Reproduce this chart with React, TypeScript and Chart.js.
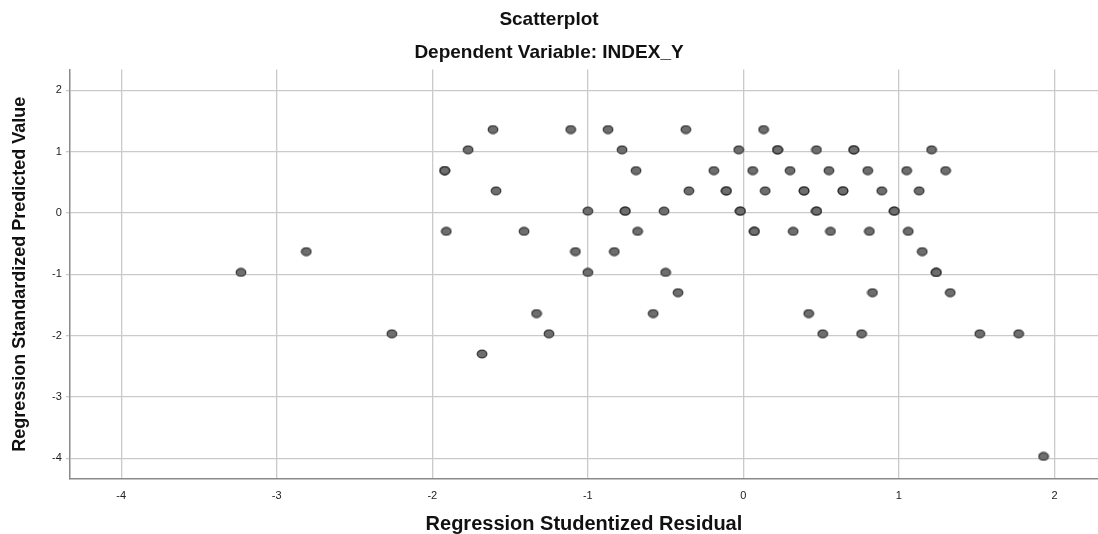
import React, { useEffect, useRef } from "react";
import { Chart, registerables } from "chart.js";

Chart.register(...registerables);

// Regression Studentized Residual (x) and Regression Standardized Predicted Value (y)
const residuals: number[] = [
  -1.61, -1.11, -0.87, -0.37, 0.13,
  -1.77, -0.78, -0.03, 0.22, 0.22, 0.47, 0.71, 0.71, 1.21,
  -1.92, -1.92, -0.69, -0.19, 0.06, 0.30, 0.55, 0.80, 1.05, 1.30,
  -1.59, -0.35, -0.11, -0.11, 0.14, 0.39, 0.39, 0.64, 0.64, 0.89, 1.13,
  -1.00, -0.76, -0.76, -0.51, -0.02, -0.02, 0.47, 0.47, 0.97, 0.97,
  -1.91, -1.41, -0.68, 0.07, 0.07, 0.32, 0.56, 0.81, 1.06,
  -2.81, -1.08, -0.83, 1.15,
  -3.23, -1.00, -0.50, 1.24, 1.24,
  -0.42, 0.83, 1.33,
  -1.33, -0.58, 0.42,
  -2.26, -1.25, 0.51, 0.76, 1.52, 1.77,
  -1.68,
  1.93,
];
const predicted: number[] = [
  1.36, 1.36, 1.36, 1.36, 1.36,
  1.03, 1.03, 1.03, 1.03, 1.03, 1.03, 1.03, 1.03, 1.03,
  0.69, 0.69, 0.69, 0.69, 0.69, 0.69, 0.69, 0.69, 0.69, 0.69,
  0.36, 0.36, 0.36, 0.36, 0.36, 0.36, 0.36, 0.36, 0.36, 0.36, 0.36,
  0.03, 0.03, 0.03, 0.03, 0.03, 0.03, 0.03, 0.03, 0.03, 0.03,
  -0.30, -0.30, -0.30, -0.30, -0.30, -0.30, -0.30, -0.30, -0.30,
  -0.63, -0.63, -0.63, -0.63,
  -0.97, -0.97, -0.97, -0.97, -0.97,
  -1.30, -1.30, -1.30,
  -1.64, -1.64, -1.64,
  -1.97, -1.97, -1.97, -1.97, -1.97, -1.97,
  -2.30,
  -3.97,
];

const xTicks: number[] = [-4, -3, -2, -1, 0, 1, 2];
const yTicks: number[] = [-4, -3, -2, -1, 0, 1, 2];

const titleText = "Scatterplot";
const subtitleText = "Dependent Variable: INDEX_Y";
const xTitle = "Regression Studentized Residual";
const yTitle = "Regression Standardized Predicted Value";

const FONT = "'Liberation Sans', Arial, Helvetica, sans-serif";

function makeMarker(): HTMLCanvasElement {
  const c = document.createElement("canvas");
  c.width = 12;
  c.height = 10;
  const ctx = c.getContext("2d")!;
  ctx.beginPath();
  ctx.ellipse(6, 5, 4.8, 3.9, 0, 0, Math.PI * 2);
  ctx.fillStyle = "#6e6e6e";
  ctx.fill();
  ctx.lineWidth = 1.3;
  ctx.strokeStyle = "rgba(30,30,30,0.8)";
  ctx.stroke();
  return c;
}

export default function App() {
  const ref = useRef<HTMLCanvasElement | null>(null);

  useEffect(() => {
    if (!ref.current) return;
    const marker = makeMarker();
    const points = residuals.map((x, i) => ({ x, y: predicted[i] }));
    const chart = new Chart(ref.current, {
      type: "scatter",
      data: {
        datasets: [
          {
            data: points,
            pointStyle: marker as any,
            pointRadius: 5,
            pointHoverRadius: 5,
          },
        ],
      },
      options: {
        animation: false,
        responsive: false,
        devicePixelRatio: 1,
        layout: { autoPadding: false, padding: { left: 0, right: 0, top: 0, bottom: 0 } },
        plugins: {
          legend: { display: false },
          tooltip: { enabled: false },
          title: {
            display: true,
            text: titleText,
            color: "#111",
            font: { family: FONT, size: 19, weight: "bold", lineHeight: 1.2 },
            padding: { top: 8, bottom: 0 },
          },
          subtitle: {
            display: true,
            text: subtitleText,
            color: "#111",
            font: { family: FONT, size: 19, weight: "bold", lineHeight: 1.2 },
            padding: { top: 11, bottom: 5 },
          },
        },
        scales: {
          x: {
            type: "linear",
            min: -4.33,
            max: 2.28,
            afterBuildTicks: (axis: any) => {
              axis.ticks = xTicks.map((v) => ({ value: v }));
            },
            afterFit: (axis: any) => {
              axis.paddingRight = 0;
              axis.paddingLeft = 0;
            },
            ticks: {
              color: "#222",
              font: { family: FONT, size: 11, lineHeight: 1.2 },
              padding: 11,
              callback: (v: any) => String(v),
            },
            grid: {
              color: "#cacaca",
              lineWidth: 1.3,
              drawTicks: false,
            },
            border: { color: "#8a8a8a", width: 1.5 },
            title: {
              display: true,
              text: xTitle,
              color: "#111",
              font: { family: FONT, size: 20, weight: "bold", lineHeight: 1.0 },
              padding: { top: 0, bottom: 0 },
            },
          },
          y: {
            type: "linear",
            min: -4.335,
            max: 2.337,
            afterBuildTicks: (axis: any) => {
              axis.ticks = yTicks.map((v) => ({ value: v }));
            },
            ticks: {
              color: "#222",
              font: { family: FONT, size: 11 },
              padding: 4,
              callback: (v: any) => String(v),
            },
            grid: {
              color: "#cacaca",
              lineWidth: 1.3,
              drawTicks: true,
              tickLength: 4,
            },
            border: { color: "#8a8a8a", width: 1.5 },
            title: {
              display: true,
              text: yTitle,
              color: "#111",
              font: { family: FONT, size: 18, weight: "bold", lineHeight: 1.2 },
              padding: { top: 9, bottom: 17.5 },
            },
          },
        },
      },
    });
    return () => chart.destroy();
  }, []);

  return (
    <div style={{ position: "absolute", left: 0, top: 0, width: 1098, height: 534, background: "#fff" }}>
      <canvas ref={ref} width={1098} height={534} style={{ display: "block" }} />
    </div>
  );
}
